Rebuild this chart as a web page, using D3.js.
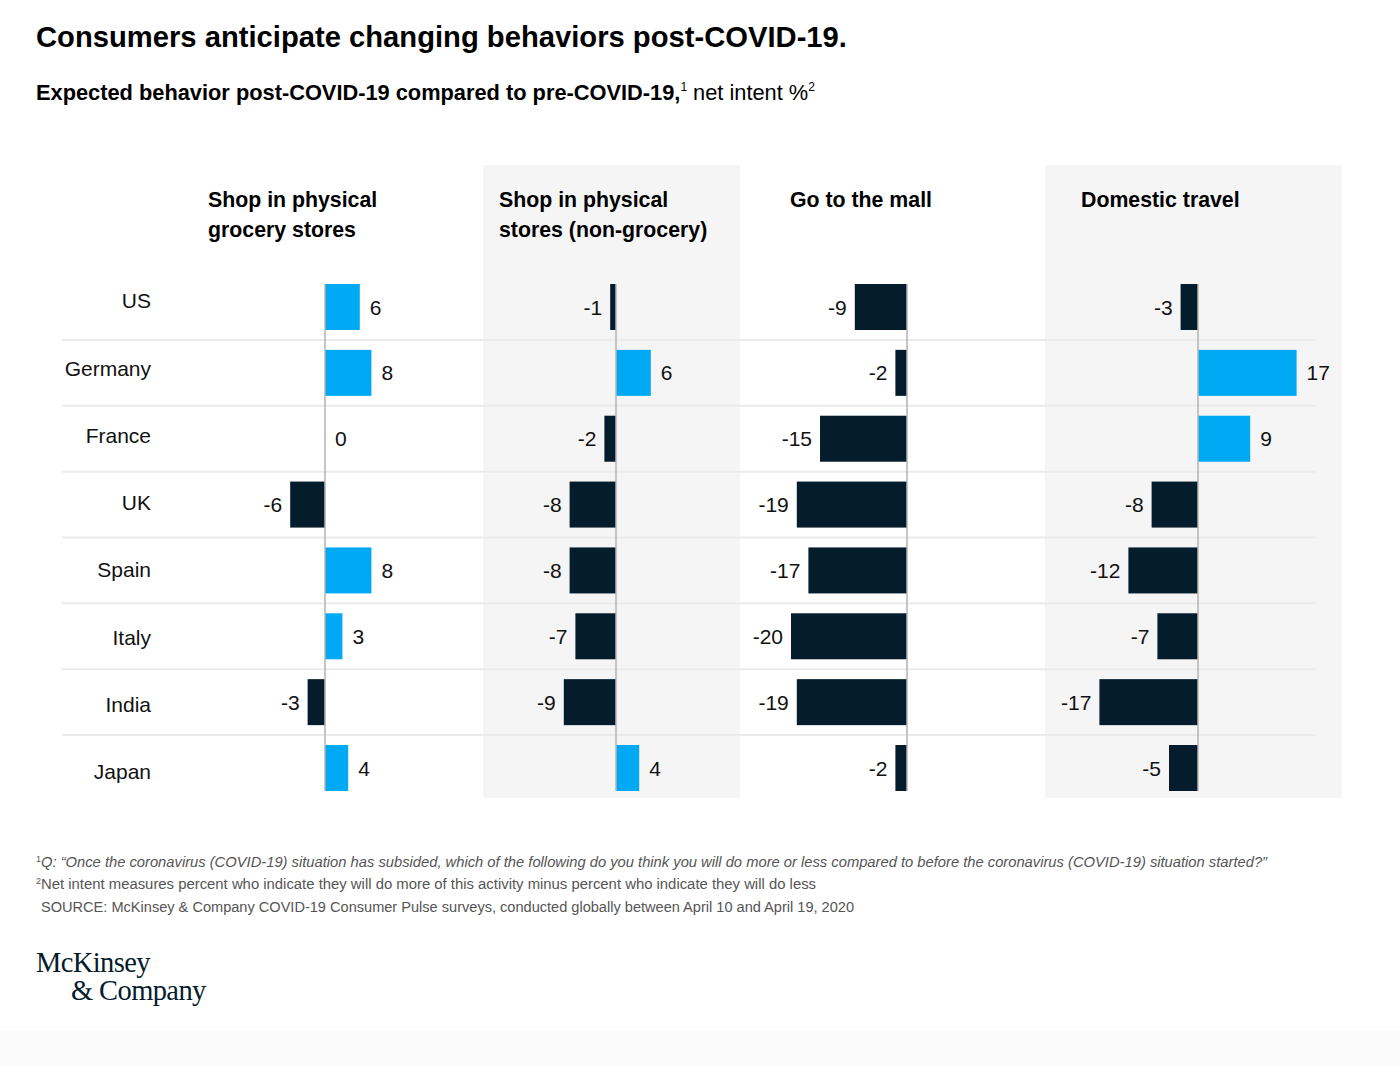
<!DOCTYPE html>
<html>
<head>
<meta charset="utf-8">
<script src="https://cdn.jsdelivr.net/npm/d3@7"></script>
<style>
  html, body { margin: 0; padding: 0; background: #fff; }
  svg { display: block; font-family: "Liberation Sans", Arial, sans-serif; }
</style>
</head>
<body>
<svg id="chart" width="1400" height="1066"></svg>
<script>
// ---- Data ----
const countries = ["US", "Germany", "France", "UK", "Spain", "Italy", "India", "Japan"];
const panelTitles = [
  ["Shop in physical", "grocery stores"],
  ["Shop in physical", "stores (non-grocery)"],
  ["Go to the mall"],
  ["Domestic travel"]
];
const groceryValues    = [6, 8, 0, -6, 8, 3, -3, 4];
const nonGroceryValues = [-1, 6, -2, -8, -8, -7, -9, 4];
const mallValues       = [-9, -2, -15, -19, -17, -20, -19, -2];
const travelValues     = [-3, 17, 9, -8, -12, -7, -17, -5];
const seriesValues = [groceryValues, nonGroceryValues, mallValues, travelValues];

const titleText = "Consumers anticipate changing behaviors post-COVID-19.";
const footnotes = [
  "Q: \u201cOnce the coronavirus (COVID-19) situation has subsided, which of the following do you think you will do more or less compared to before the coronavirus (COVID-19) situation started?\u201d",
  "Net intent measures percent who indicate they will do more of this activity minus percent who indicate they will do less",
  "SOURCE: McKinsey & Company COVID-19 Consumer Pulse surveys, conducted globally between April 10 and April 19, 2020"
];

// ---- Styles ----
const DARK = "#051c2c", BLUE = "#00a9f4", PANEL_BG = "#f5f5f5";

const svg = d3.select("#chart");

// faint bottom band
svg.append("rect").attr("x", 0).attr("y", 1031).attr("width", 1400).attr("height", 35).attr("fill", "#fbfbfb");

// ---- Scales ----
const panelIdx = d3.range(panelTitles.length);
const xPanel = d3.scalePoint().domain(panelIdx).range([325, 1198]);
const xLen = d3.scaleLinear().domain([0, 20]).range([0, 116]);
const yRow = d3.scalePoint().domain(countries).range([307, 768]);
const yLabel = d3.scalePoint().domain(countries).range([301, 772]);
const barH = 46;
const step = yRow.step();

// ---- Panel backgrounds ----
const bgPanels = [{i: 1, x0: 483, x1: 740}, {i: 3, x0: 1045, x1: 1342}];
svg.selectAll("rect.bg").data(bgPanels).join("rect")
  .attr("class", "bg")
  .attr("x", d => d.x0).attr("width", d => d.x1 - d.x0)
  .attr("y", 165).attr("height", 633)
  .attr("fill", PANEL_BG);

// ---- Title ----
svg.append("text").attr("x", 36).attr("y", 47)
  .attr("font-size", 29.2).attr("font-weight", "bold").attr("fill", "#000")
  .text(titleText);

const sub = svg.append("text").attr("x", 36).attr("y", 100)
  .attr("font-size", 21.8).attr("fill", "#000");
sub.append("tspan").attr("font-weight", "bold").text("Expected behavior post-COVID-19 compared to pre-COVID-19,");
sub.append("tspan").attr("font-size", 12).attr("dy", -9).text("1");
sub.append("tspan").attr("dy", 9).text(" net intent %");
sub.append("tspan").attr("font-size", 12).attr("dy", -9).text("2");

// ---- Row separators ----
const seps = countries.slice(1);
svg.selectAll("line.sep").data(seps).join("line")
  .attr("class", "sep")
  .attr("x1", 62).attr("x2", 1316)
  .attr("y1", d => yRow(d) - step / 2).attr("y2", d => yRow(d) - step / 2)
  .attr("stroke", "#ebebeb").attr("stroke-width", 2);

// ---- Row labels ----
svg.selectAll("text.rowlab").data(countries).join("text")
  .attr("class", "rowlab")
  .attr("x", 151).attr("y", d => yLabel(d)).attr("dy", "0.35em")
  .attr("text-anchor", "end").attr("font-size", 21).attr("fill", "#111")
  .text(d => d);

// ---- Panels ----
panelIdx.forEach(pi => {
  const x0 = xPanel(pi);
  const g = svg.append("g");
  // header
  const h = g.append("text").attr("x", x0 - 117).attr("y", 207)
    .attr("font-size", 21.3).attr("font-weight", "bold").attr("fill", "#000");
  panelTitles[pi].forEach((t, k) => {
    h.append("tspan").attr("x", x0 - 117).attr("dy", k === 0 ? 0 : 30).text(t);
  });
  const vals = seriesValues[pi];
  const data = countries.map((c, k) => ({c, v: vals[k]}));
  // bars
  g.selectAll("rect.bar").data(data).join("rect")
    .attr("class", "bar")
    .attr("x", d => d.v >= 0 ? x0 : x0 - xLen(-d.v))
    .attr("width", d => xLen(Math.abs(d.v)))
    .attr("y", d => yRow(d.c) - barH / 2).attr("height", barH)
    .attr("fill", d => d.v > 0 ? BLUE : DARK);
  // zero line
  g.append("line")
    .attr("x1", x0).attr("x2", x0)
    .attr("y1", yRow(countries[0]) - barH / 2)
    .attr("y2", yRow(countries[countries.length - 1]) + barH / 2)
    .attr("stroke", "#b3b3b3").attr("stroke-width", 1.5);
  // value labels
  g.selectAll("text.val").data(data).join("text")
    .attr("class", "val")
    .attr("x", d => d.v >= 0 ? x0 + xLen(d.v) + 10 : x0 - xLen(-d.v) - 8)
    .attr("y", d => yRow(d.c)).attr("dy", "0.36em")
    .attr("text-anchor", d => d.v >= 0 ? "start" : "end")
    .attr("font-size", 21).attr("fill", "#111")
    .text(d => d.v);
});

// ---- Footnotes ----
const fn = svg.append("g").attr("fill", "#555").attr("font-size", 14);
const f1 = fn.append("text").attr("x", 36).attr("y", 867);
f1.append("tspan").attr("font-size", 9).attr("dy", -5).text("1");
f1.append("tspan").attr("dy", 5).attr("font-style", "italic").text(footnotes[0])
  .attr("textLength", 1226).attr("lengthAdjust", "spacingAndGlyphs");
const f2 = fn.append("text").attr("x", 36).attr("y", 889);
f2.append("tspan").attr("font-size", 9).attr("dy", -5).text("2");
f2.append("tspan").attr("dy", 5).text(footnotes[1])
  .attr("textLength", 775).attr("lengthAdjust", "spacingAndGlyphs");
fn.append("text").attr("x", 41).attr("y", 912).text(footnotes[2])
  .attr("textLength", 813).attr("lengthAdjust", "spacingAndGlyphs");

// ---- Logo ----
const logo = svg.append("g").attr("fill", DARK)
  .attr("font-family", "'Liberation Serif', 'DejaVu Serif', serif").attr("font-size", 28.5);
logo.append("text").attr("x", 36).attr("y", 972).attr("letter-spacing", -0.6).text("McKinsey");
logo.append("text").attr("x", 71).attr("y", 1000).attr("letter-spacing", -0.6).text("& Company");
</script>
</body>
</html>
